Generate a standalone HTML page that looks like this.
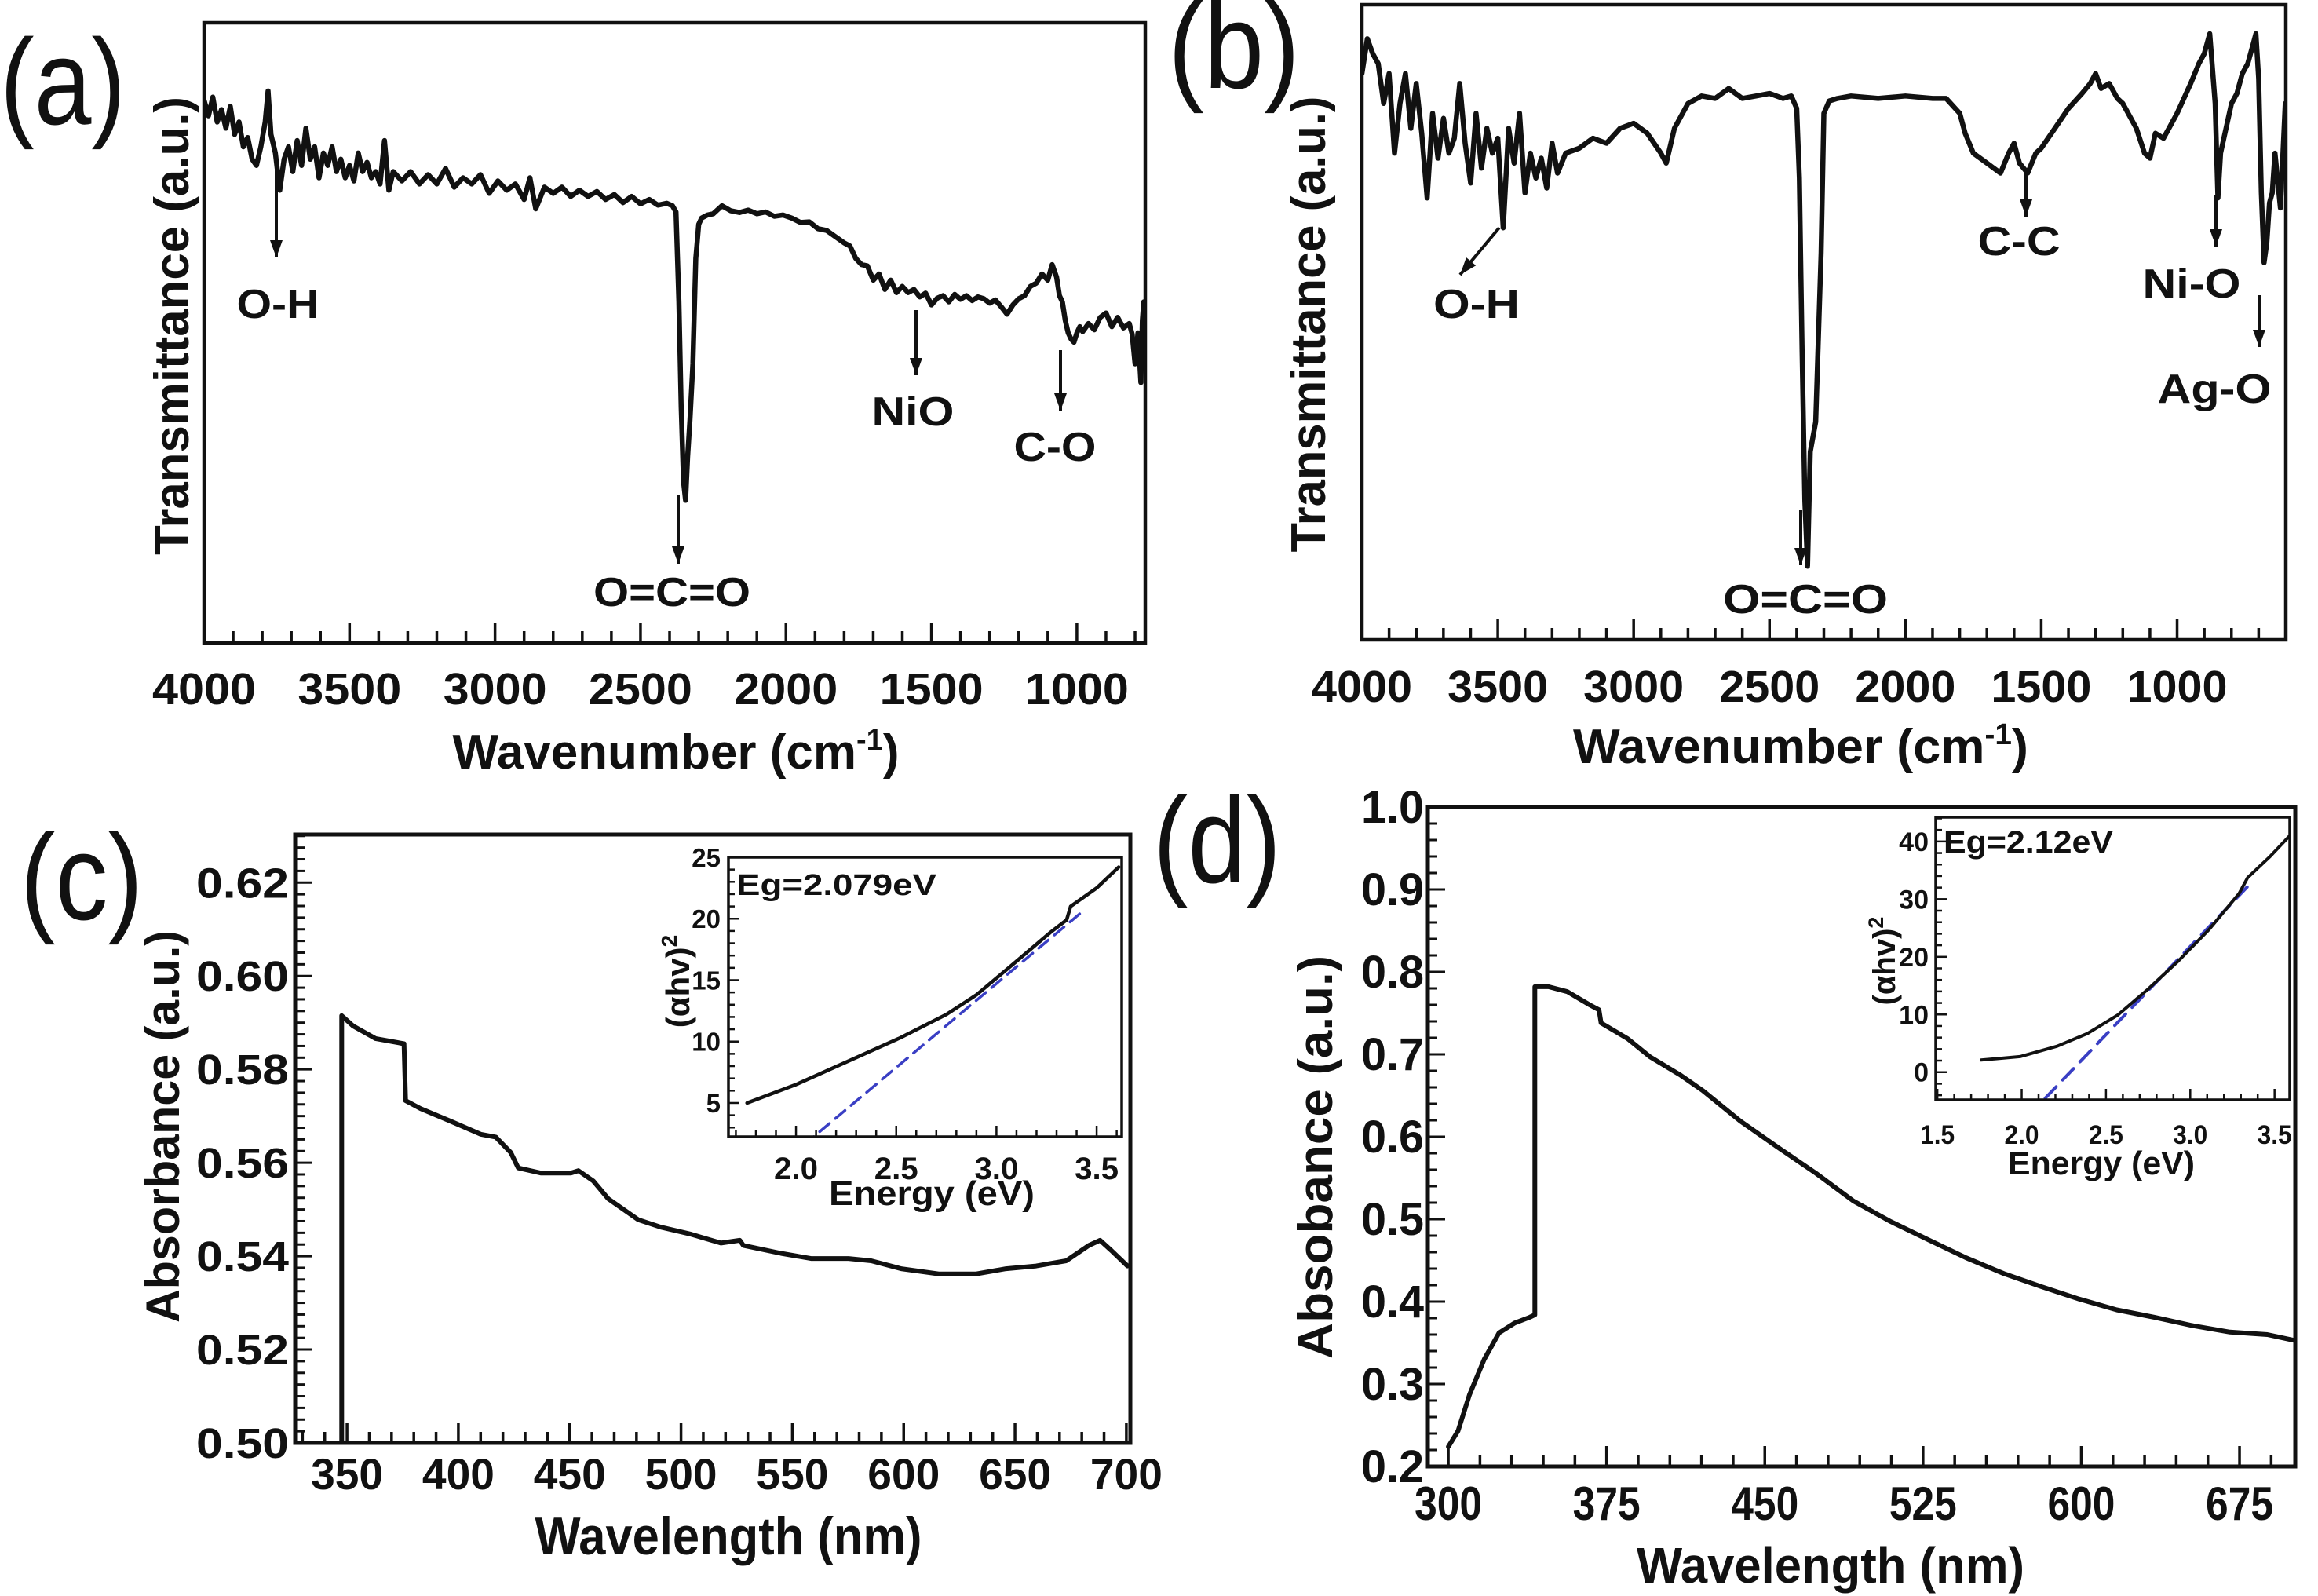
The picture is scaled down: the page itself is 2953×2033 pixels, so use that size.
<!DOCTYPE html>
<html><head><meta charset="utf-8">
<style>
html,body{margin:0;padding:0;background:#fff;}
svg{display:block;}
text{font-family:"Liberation Sans",Arial,sans-serif;fill:#111;}
</style></head>
<body>
<svg id="chart" width="2953" height="2033" viewBox="0 0 2953 2033" xmlns="http://www.w3.org/2000/svg"></svg>
<script>
// ---------- Panel (a) FTIR data ----------
const aWn = [4000,3985,3970,3955,3940,3925,3910,3895,3880,3865,3850,3835,3820,3805,3790,3780,3770,3755,3740,3725,3710,3695,3680,3665,3650,3635,3620,3605,3590,3575,3560,3545,3530,3515,3500,3485,3470,3455,3440,3425,3410,3395,3380,3365,3350,3320,3290,3260,3230,3200,3170,3140,3110,3080,3050,3020,2990,2960,2930,2900,2880,2860,2830,2800,2770,2740,2710,2680,2650,2620,2590,2560,2530,2500,2470,2440,2410,2390,2378,2368,2360,2352,2345,2338,2330,2320,2310,2300,2290,2270,2250,2220,2190,2160,2130,2100,2070,2040,2010,1980,1950,1920,1890,1860,1830,1800,1780,1760,1740,1720,1700,1680,1660,1640,1620,1600,1580,1560,1540,1520,1500,1480,1460,1440,1420,1400,1380,1360,1340,1320,1300,1280,1260,1240,1220,1200,1180,1160,1140,1120,1100,1085,1070,1060,1050,1040,1030,1020,1010,1000,990,980,960,940,920,900,880,860,840,820,810,800,790,780,775,770,766];
const aT = [87.5,85,88,84,86,83,86.5,82,84,80,81.5,78,77,80,84,89,82,79,73,78,80,76,81,77,83,78,80,75,79,77,80,76,78,75,77,74.5,79,76,77.5,75,76,74,81,73,76,74.5,76,74,75.5,74,76.5,73.5,75,74,75.5,72.5,74.5,73,74,71.5,75,70,73.5,72.5,73.5,72,73,72,72.8,71.5,72.3,71,72,70.8,71.5,70.6,70.9,70.5,69.5,55,38,26,23,30,36,45,62,67.5,68.5,69,69.2,70.5,69.7,69.4,69.8,69.2,69.5,68.8,69,68.5,67.8,67.9,66.8,66.5,65.5,64.5,64,62,61,60.8,58.5,59.5,57,58.5,56.5,57.5,56.5,57,55.8,56.4,54.5,55.6,56,55,56.2,55.4,56,55.2,55.8,55.5,54.8,55.3,54.2,53,54.5,55.5,56,57.5,58,59.5,58.5,61,59,56,55,52,50,49,48.5,50,51,50.2,51.5,50.5,52.5,53.2,51,52.5,50.8,51.5,49.8,45,50,42,52,55,47];
const aTicks = [4000,3500,3000,2500,2000,1500,1000];

// ---------- Panel (b) FTIR data ----------
const bWn = [4000,3980,3960,3940,3920,3900,3880,3860,3840,3820,3800,3780,3760,3740,3720,3700,3680,3660,3640,3620,3600,3580,3560,3540,3520,3500,3480,3460,3440,3420,3400,3380,3360,3340,3320,3300,3280,3250,3200,3150,3100,3050,3000,2950,2900,2880,2850,2800,2750,2700,2650,2600,2550,2500,2450,2420,2400,2390,2380,2370,2360,2350,2330,2310,2300,2280,2250,2200,2100,2000,1900,1850,1800,1780,1750,1700,1650,1620,1600,1580,1550,1520,1500,1450,1400,1350,1320,1300,1280,1250,1220,1200,1150,1120,1100,1080,1050,1000,950,920,900,880,860,850,840,800,780,760,740,720,710,700,690,680,670,660,650,640,620,602];
const bT = [88.8,94.4,92,90.4,84,88.8,76,84,88.8,80,87.2,79.2,68.8,82.4,75.2,81.6,76,78.4,87.2,77.6,71.2,82.4,73.6,80,76,78.4,64,80,74.4,82.4,69.6,76,72,75.2,70.4,77.6,72.8,76,76.8,78.4,77.6,80,80.8,79.2,76,74.4,80,84,85.2,84.8,86.4,84.8,85.2,85.6,84.8,85.2,83.2,72,44,20,9.6,28,32.8,60,82.4,84.4,84.8,85.2,84.8,85.2,84.8,84.8,82.4,79.2,76,74.4,72.8,76,77.6,74.4,72.8,76,76.8,80,83.2,85.6,87.2,88.8,86.4,87.2,84.8,84,80,76,75.2,79.2,78.4,82.4,87.2,90.4,92,95.2,84,68.8,76,84,85.6,88.8,90.4,93.6,95.2,88,69.6,58.4,61.6,68,69.6,76,67.2,84];
const bTicks = [4000,3500,3000,2500,2000,1500,1000];

// ---------- Panel (c) UV-vis data ----------
const cWl = [347.6,347.6,352.7,362.8,375.6,376.3,383,396.5,410,416.8,423.5,426.9,437,450.5,453.9,460.6,467.3,480.8,491,504.4,517.9,526.4,528,544.9,558.4,575.2,585.4,598.9,615.7,632.6,646,659.5,673,683.2,688.2,693.3,700.5];
const cAbs = [0.4990,0.5915,0.5893,0.5866,0.5855,0.5733,0.5716,0.5689,0.5661,0.5655,0.5622,0.5589,0.5578,0.5578,0.5583,0.5561,0.5523,0.5478,0.5462,0.5447,0.5428,0.5434,0.5423,0.5406,0.5395,0.5395,0.5390,0.5373,0.5362,0.5362,0.5373,0.5379,0.5390,0.5423,0.5434,0.5412,0.5379];
const cYTicks = [0.50,0.52,0.54,0.56,0.58,0.60,0.62];
const cXTicks = [350,400,450,500,550,600,650,700];
// inset (c) Tauc plot
const ciE = [1.756,2.0,2.26,2.52,2.75,2.9,3.09,3.27,3.35,3.37,3.5,3.61];
const ciY = [5.0,6.5,8.4,10.3,12.2,13.8,16.4,18.9,19.9,21.0,22.5,24.2];
const ciFitE = [2.04,3.43];
const ciFitY = [1.6,20.6];
const ciYTicks = [5,10,15,20,25];
const ciXTicks = [2.0,2.5,3.0,3.5];

// ---------- Panel (d) UV-vis data ----------
const dWl = [300,304.6,310,317,324,331.4,338.5,341,341,347.5,356.4,367,371.4,372.4,385,395.6,409.9,420.6,438.4,456.3,474.1,492,509.8,527.6,545.5,563.3,581.2,599,616.8,634.7,652.5,670.4,688.2,701];
const dAbs = [0.224,0.243,0.287,0.330,0.362,0.374,0.381,0.384,0.782,0.782,0.776,0.760,0.754,0.738,0.719,0.697,0.675,0.656,0.619,0.587,0.556,0.522,0.497,0.475,0.453,0.434,0.418,0.403,0.390,0.381,0.371,0.363,0.360,0.353];
const dYTicks = [0.2,0.3,0.4,0.5,0.6,0.7,0.8,0.9,1.0];
const dXTicks = [300,375,450,525,600,675];
// inset (d)
const diE = [1.76,1.99,2.21,2.39,2.57,2.75,2.93,3.11,3.29,3.34,3.47,3.6];
const diY = [2.1,2.7,4.5,6.7,9.9,14.4,19.3,24.7,31.0,33.7,37.3,41.3];
const diFitE = [2.14,3.36];
const diFitY = [-4.5,32.8];
const diYTicks = [0,10,20,30,40];
const diXTicks = [1.5,2.0,2.5,3.0,3.5];

const NS = "http://www.w3.org/2000/svg";
const svg = document.getElementById('chart');
function el(tag, attrs, parent){
  const e = document.createElementNS(NS, tag);
  for (const k in attrs) e.setAttribute(k, attrs[k]);
  (parent||svg).appendChild(e);
  return e;
}
function lin(d0,d1,r0,r1){ return v => r0 + (v-d0)/(d1-d0)*(r1-r0); }
function txt(parent, s, x, y, size, opts){
  opts = opts||{};
  const t = el('text', {x:x, y:y, 'font-size':size, 'font-weight':opts.weight||'bold', 'text-anchor':opts.anchor||'middle'}, parent);
  if (opts.len){ t.setAttribute('textLength', opts.len); t.setAttribute('lengthAdjust','spacingAndGlyphs'); }
  if (opts.rot) t.setAttribute('transform', 'rotate(-90 '+x+' '+y+')');
  t.textContent = s;
  return t;
}
function polyline(parent, xs, ys, sx, sy, stroke, w, dash){
  let d = '';
  for (let i=0;i<xs.length;i++) d += (i?'L':'M') + sx(xs[i]).toFixed(1) + ' ' + sy(ys[i]).toFixed(1);
  const p = el('path', {d:d, fill:'none', stroke:stroke, 'stroke-width':w, 'stroke-linejoin':'round', 'stroke-linecap':'round'}, parent);
  if (dash) p.setAttribute('stroke-dasharray', dash);
  return p;
}
function arrow(parent, x1,y1,x2,y2){
  el('line',{x1:x1,y1:y1,x2:x2,y2:y2,stroke:'#111','stroke-width':4}, parent);
  const ang = Math.atan2(y2-y1, x2-x1), L=22, W=8;
  const bx = x2 - L*Math.cos(ang), by = y2 - L*Math.sin(ang);
  const px = -Math.sin(ang)*W, py = Math.cos(ang)*W;
  el('polygon',{points:`${x2},${y2} ${bx+px},${by+py} ${bx-px},${by-py}`, fill:'#111'}, parent);
}

// ===== Panel (a) =====
(function(){
  const g = el('g', {});
  
  
  const L=260,R=1459,T=29,B=819;
  const sx = lin(4000,765,L,R), sy = lin(0,100,B,T);
  const clip = el('clipPath',{id:'clipA'},g); el('rect',{x:L,y:T,width:R-L,height:B-T},clip);
  const line = polyline(g, aWn, aT, sx, sy, '#111', 6.5);
  line.setAttribute('clip-path','url(#clipA)');
  
  
  for (let v=4000; v>=770; v-=100){
    const major = v%500===0;
    el('line',{x1:sx(v),x2:sx(v),y1:B,y2:B-(major?26:15),stroke:'#111','stroke-width':3.5},g);
  }
  const fr = el('rect',{x:L,y:T,width:R-L,height:B-T,fill:'none',stroke:'#111','stroke-width':4.5},g);
  
  
  aTicks.forEach(v=>{ const t=txt(g, String(v), sx(v), 897, 57, {len:132});
      });
  const xt = el('text',{x:861,y:979,'font-size':62,'font-weight':'bold','text-anchor':'middle',textLength:569,lengthAdjust:'spacingAndGlyphs'},g);
  xt.innerHTML = 'Wavenumber (cm<tspan font-size="38" dy="-24">-1</tspan><tspan dy="24">)</tspan>';
   
  const yt = txt(g, 'Transmittance (a.u.)', 240, 415, 62, {rot:true, len:584});
   
  const pl = txt(g, '(a)', 0, 158, 155, {anchor:'start', weight:'normal', len:160});
   
  arrow(g, 352,204,352,328); txt(g,'O-H',354,405,52,{len:105});
  arrow(g, 864,631,864,718); txt(g,'O=C=O',856,772,52,{len:200});
  arrow(g, 1167,395,1167,478); txt(g,'NiO',1163,542,52,{len:105});
  arrow(g, 1351,446,1351,523); txt(g,'C-O',1344,587,52,{len:105});
})();

// ===== Panel (b) =====
(function(){
  const g = el('g', {});
  
  
  const L=1735,R=2912,T=6,B=815;
  const sx = lin(4000,600,L,R), sy = lin(-2.24,100,B,5);
  const clip = el('clipPath',{id:'clipB'},g); el('rect',{x:L,y:T,width:R-L,height:B-T},clip);
  const line = polyline(g, bWn, bT, sx, sy, '#111', 6.5);
  line.setAttribute('clip-path','url(#clipB)');
  
  
  for (let v=4000; v>=610; v-=100){
    const major = v%500===0;
    el('line',{x1:sx(v),x2:sx(v),y1:B,y2:B-(major?26:15),stroke:'#111','stroke-width':3.5},g);
  }
  const fr = el('rect',{x:L,y:T,width:R-L,height:B-T,fill:'none',stroke:'#111','stroke-width':4.5},g);
  
  
  bTicks.forEach(v=>{ const t=txt(g, String(v), sx(v), 894, 57, {len:128});
      });
  const xt = el('text',{x:2294,y:972,'font-size':62,'font-weight':'bold','text-anchor':'middle',textLength:580,lengthAdjust:'spacingAndGlyphs'},g);
  xt.innerHTML = 'Wavenumber (cm<tspan font-size="38" dy="-24">-1</tspan><tspan dy="24">)</tspan>';
   
  const yt = txt(g, 'Transmittance (a.u.)', 1688, 413, 62, {rot:true, len:581});
   
  const pl = txt(g, '(b)', 1488, 112, 155, {anchor:'start', weight:'normal', len:168});
   
  arrow(g, 1910,290,1860,350); txt(g,'O-H',1881,405,52,{len:110});
  arrow(g, 2294,650,2294,720); txt(g,'O=C=O',2300,781,52,{len:210});
  arrow(g, 2581,217,2581,276); txt(g,'C-C',2572,325,52,{len:105});
  arrow(g, 2823,249,2823,314); txt(g,'Ni-O',2792,379,52,{len:125});
  arrow(g, 2878,376,2878,442); txt(g,'Ag-O',2821,513,52,{len:145});
})();

// ===== Panel (c) =====
(function(){
  const g = el('g', {});
  
  
  const L=376,R=1440,T=1063,B=1838;
  const sx = lin(326.7,701.8,L,R), sy = lin(0.50,0.6303,B,T);
  const clip = el('clipPath',{id:'clipC'},g); el('rect',{x:L,y:T,width:R-L,height:B-T},clip);
  const line = polyline(g, cWl, cAbs, sx, sy, '#111', 6);
  line.setAttribute('clip-path','url(#clipC)');
  
  
  for (let v=330; v<=700; v+=10){
    const major = v%50===0;
    el('line',{x1:sx(v),x2:sx(v),y1:B,y2:B-(major?26:14),stroke:'#111','stroke-width':3.5},g);
  }
  for (let k=0; k<=52; k++){
    const v = 0.50 + k*0.0025;
    const major = k%8===0;
    el('line',{x1:L,x2:L+(major?22:12),y1:sy(v),y2:sy(v),stroke:'#111','stroke-width':3},g);
  }
  const fr = el('rect',{x:L,y:T,width:R-L,height:B-T,fill:'none',stroke:'#111','stroke-width':5},g);
  
  
  cXTicks.forEach(v=>{ const t=txt(g, String(v), sx(v), 1897, 56, {len:92});
      });
  cYTicks.forEach(v=>{ const t=txt(g, v.toFixed(2), 368, sy(v)+19, 54, {anchor:'end', len:118});
      });
  const xt = txt(g,'Wavelength (nm)',928,1980,68,{len:493});
   
  const yt = txt(g,'Absorbance (a.u.)',228,1435,60,{rot:true,len:500});
   
  const pl = txt(g,'(c)',26,1171,155,{anchor:'start',weight:'normal',len:156});
   

  // inset
  const ig = el('g',{},g);
  
  
  const iL=928,iR=1429,iT=1092,iB=1448;
  const ix = lin(1.663,3.625,iL,iR), iy = lin(2.25,25,iB,iT);
  el('rect',{x:iL,y:iT,width:iR-iL,height:iB-iT,fill:'#fff'},ig);
  const ic = el('clipPath',{id:'clipCI'},ig); el('rect',{x:iL,y:iT,width:iR-iL,height:iB-iT},ic);
  const fit = polyline(ig, ciFitE, ciFitY, ix, iy, '#3a3fc4', 3.5, '16 10');
  fit.setAttribute('clip-path','url(#clipCI)');
   
  const cur = polyline(ig, ciE, ciY, ix, iy, '#111', 4.5);
  cur.setAttribute('clip-path','url(#clipCI)');
   
  for (let k=0;k<=19;k++){ const v=1.7+k*0.1; if(v>3.62) break;
    const major = Math.abs(v*2-Math.round(v*2))<1e-6;
    el('line',{x1:ix(v),x2:ix(v),y1:iB,y2:iB-(major?14:8),stroke:'#111','stroke-width':2.5},ig); }
  for (let v=3; v<=25; v+=1){ const major=v%5===0;
    el('line',{x1:iL,x2:iL+(major?14:8),y1:iy(v),y2:iy(v),stroke:'#111','stroke-width':2.5},ig); }
  el('rect',{x:iL,y:iT,width:iR-iL,height:iB-iT,fill:'none',stroke:'#111','stroke-width':3.5},ig);
  ciXTicks.forEach(v=>{ const t=txt(ig, v.toFixed(1), ix(v), 1502, 40, {len:56});
      });
  ciYTicks.forEach(v=>{ const t=txt(ig, String(v), 918, iy(v)+12, 33, {anchor:'end'});
      });
  txt(ig,'Energy (eV)',1187,1535,44,{len:262});
  const iyt = el('text',{x:878,y:1250,'font-size':42,'font-weight':'bold','text-anchor':'middle',transform:'rotate(-90 878 1250)'},ig);
  iyt.innerHTML = '(αhv)<tspan font-size="28" dy="-16">2</tspan>';
   
  const eg = txt(ig,'Eg=2.079eV',938,1140,38,{anchor:'start',len:255});
   
})();

// ===== Panel (d) =====
(function(){
  const g = el('g', {});
  
  
  const L=1819,R=2924,T=1028,B=1868;
  const sx = lin(290.3,701.4,L,R), sy = lin(0.2,1.0,B,T);
  const clip = el('clipPath',{id:'clipD'},g); el('rect',{x:L,y:T,width:R-L,height:B-T},clip);
  const line = polyline(g, dWl, dAbs, sx, sy, '#111', 6);
  line.setAttribute('clip-path','url(#clipD)');
  
  
  for (let v=300; v<=700; v+=15){
    const major = (v-300)%75===0;
    el('line',{x1:sx(v),x2:sx(v),y1:B,y2:B-(major?26:14),stroke:'#111','stroke-width':3.5},g);
  }
  for (let k=0;k<=40;k++){ const v=0.2+k*0.02; const major=k%5===0;
    el('line',{x1:L,x2:L+(major?22:12),y1:sy(v),y2:sy(v),stroke:'#111','stroke-width':3},g); }
  const fr = el('rect',{x:L,y:T,width:R-L,height:B-T,fill:'none',stroke:'#111','stroke-width':5},g);
  
  
  dXTicks.forEach(v=>{ const t=txt(g, String(v), sx(v), 1936, 60, {len:86});
      });
  dYTicks.forEach(v=>{ const t=txt(g, v.toFixed(1), 1814, sy(v)+20, 58, {anchor:'end', len:80});
      });
  const xt = txt(g,'Wavelength (nm)',2332,2016,64,{len:494});
   
  const yt = txt(g,'Absobance (a.u.)',1697,1474,62,{rot:true,len:514});
   
  const pl = txt(g,'(d)',1469,1124,155,{anchor:'start',weight:'normal',len:163});
   

  const ig = el('g',{},g);
  
  
  const iL=2466,iR=2917,iT=1041,iB=1401;
  const ix = lin(1.49,3.59,iL,iR), iy = lin(-4.8,44.2,iB,iT);
  el('rect',{x:iL,y:iT,width:iR-iL,height:iB-iT,fill:'#fff'},ig);
  const ic = el('clipPath',{id:'clipDI'},ig); el('rect',{x:iL,y:iT,width:iR-iL,height:iB-iT},ic);
  const fit = polyline(ig, diFitE, diFitY, ix, iy, '#3a3fc4', 4, '20 12');
  fit.setAttribute('clip-path','url(#clipDI)');
   
  const cur = polyline(ig, diE, diY, ix, iy, '#111', 4);
  cur.setAttribute('clip-path','url(#clipDI)');
   
  for (let k=0;k<=21;k++){ const v=1.5+k*0.1; if(v>3.59) break;
    const major = Math.abs(v*2-Math.round(v*2))<1e-6;
    el('line',{x1:ix(v),x2:ix(v),y1:iB,y2:iB-(major?14:8),stroke:'#111','stroke-width':2.5},ig); }
  for (let v=-4; v<=44; v+=2){ const major=v%10===0;
    el('line',{x1:iL,x2:iL+(major?14:8),y1:iy(v),y2:iy(v),stroke:'#111','stroke-width':2.5},ig); }
  el('rect',{x:iL,y:iT,width:iR-iL,height:iB-iT,fill:'none',stroke:'#111','stroke-width':3.5},ig);
  diXTicks.forEach(v=>{ const t=txt(ig, v.toFixed(1), ix(v), 1457, 34, {len:44});
      });
  diYTicks.forEach(v=>{ const t=txt(ig, String(v), 2457, iy(v)+12, 34, {anchor:'end'});
      });
  txt(ig,'Energy (eV)',2677,1496,42,{len:238});
  const iyt = el('text',{x:2414,y:1224,'font-size':40,'font-weight':'bold','text-anchor':'middle',transform:'rotate(-90 2414 1224)'},ig);
  iyt.innerHTML = '(αhv)<tspan font-size="27" dy="-15">2</tspan>';
   
  const eg = txt(ig,'Eg=2.12eV',2476,1086,40,{anchor:'start',len:216});
   
})();
</script>
</body></html>
